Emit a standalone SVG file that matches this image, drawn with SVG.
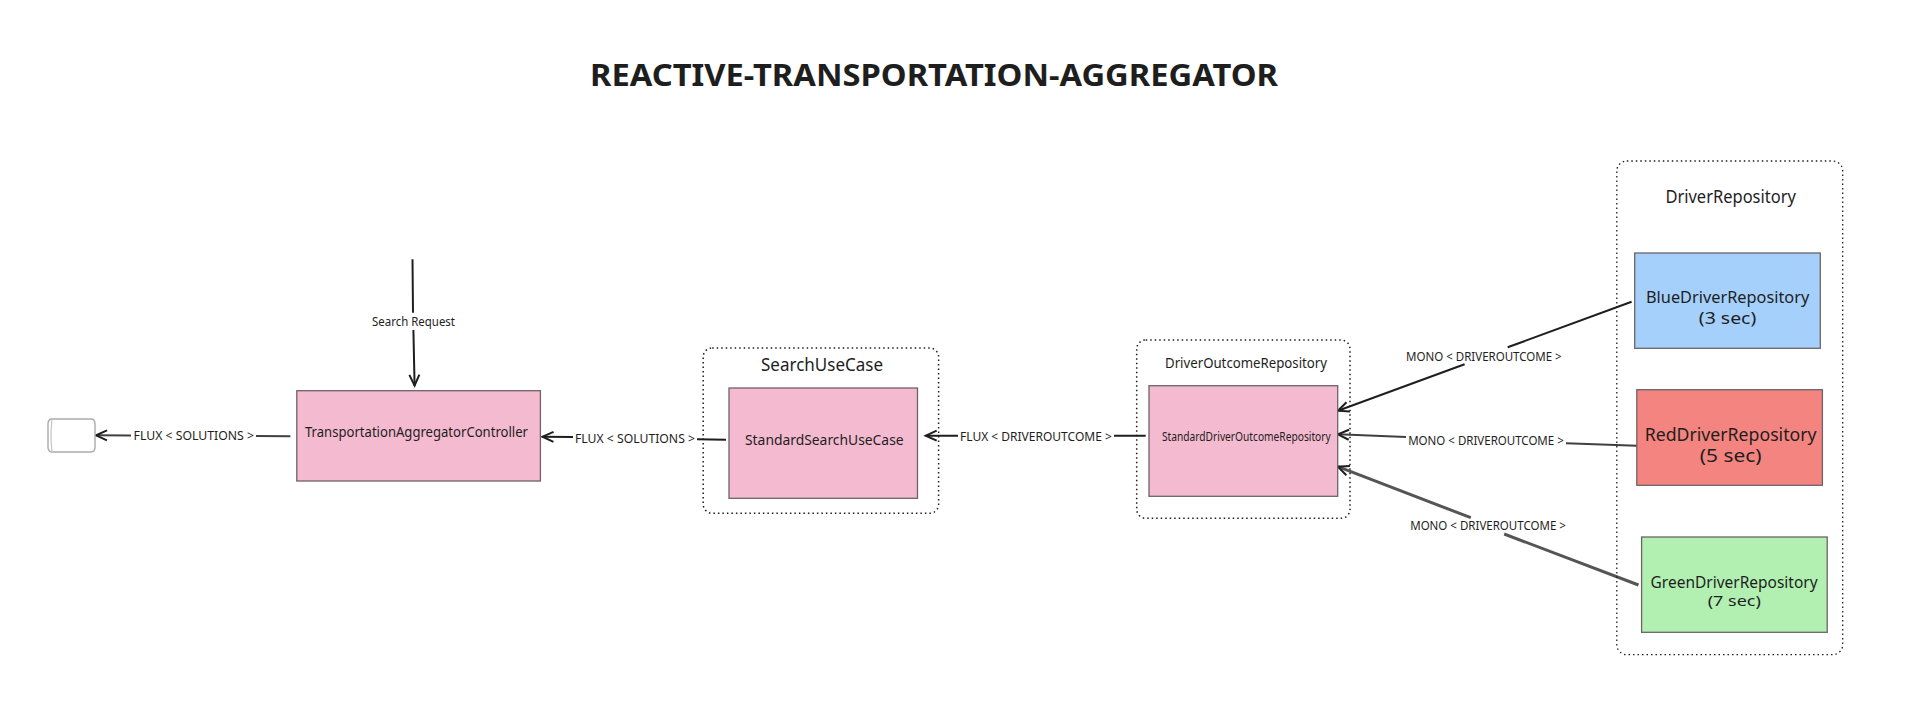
<svg xmlns="http://www.w3.org/2000/svg" width="1922" height="724" viewBox="0 0 1922 724">
<style>
text{font-family:"Noto Sans","DejaVu Sans",sans-serif;fill:#1e1e1e;text-anchor:start;dominant-baseline:central}
.box{stroke:#6e6268;stroke-width:1.3}
.group{fill:none;stroke:#1e1e1e;stroke-width:1.5;stroke-dasharray:1.5 3}
.conn{fill:none;stroke:#1e1e1e;stroke-width:2}
.lbl{font-size:12px}
.nd{font-size:15px}
.big{font-size:18px}
</style>
<defs>
<marker id="arrow" markerUnits="userSpaceOnUse" markerWidth="18" markerHeight="16" refX="14" refY="8" orient="auto" overflow="visible">
<path d="M3,3 L14,8 L3,13" fill="none" stroke="#1e1e1e" stroke-width="2"/>
</marker>
</defs>
<rect width="1922" height="724" fill="#fff"/>
<text id="title" x="590" y="74" font-size="31" font-weight="700" textLength="688" lengthAdjust="spacingAndGlyphs">REACTIVE-TRANSPORTATION-AGGREGATOR</text>

<g id="connectors">
<path class="conn" d="M412.5,259.3 L413,312.7 M413.4,330 L414.6,385.7" marker-end="url(#arrow)"/>
<path class="conn" stroke-opacity=".85" d="M290.4,436.3 L256,436 M131,435.6 L96,435.3" marker-end="url(#arrow)"/>
<path class="conn" d="M726,439.7 L697,439.3 M573,437 L542.5,436.7" marker-end="url(#arrow)"/>
<path class="conn" d="M1145.7,435.7 L1114,435.7 M958,435.7 L925.7,435.7" marker-end="url(#arrow)"/>
<path class="conn" d="M1631.6,301.7 L1507.7,347.3 M1464.6,364.3 L1337.9,410.7" marker-end="url(#arrow)"/>
<path class="conn" stroke-opacity=".85" d="M1636.8,445.7 L1566,443.3 M1406,437 L1337.9,434.3" marker-end="url(#arrow)"/>
<path class="conn" style="stroke:#555;stroke-width:3" d="M1638.5,585 L1504.2,534 M1470.8,517.7 L1337.9,466.7" marker-end="url(#arrow)"/>
</g>

<g id="output-cylinder">
<path d="M52,419 H91 Q95,419 95,424 V447 Q95,452 91,452 H52 Q48,452 48,447 V424 Q48,419 52,419 Z" fill="#fff" stroke="#aaa" stroke-width="1.4"/>
<path d="M52,419 Q50,435.500 52,452" fill="none" stroke="#c4c4c4" stroke-width="1.2"/>
</g>

<g id="transportation-controller">
<rect class="box" x="296.8" y="390.7" width="243.6" height="90.3" fill="#f4bad0"/>
<text class="nd" x="305" y="431" textLength="223" lengthAdjust="spacingAndGlyphs">TransportationAggregatorController</text>
</g>

<g id="search-use-case">
<rect class="group" x="703.2" y="348" width="235.4" height="165.3" rx="9"/>
<text class="big" x="761" y="364" textLength="122" lengthAdjust="spacingAndGlyphs">SearchUseCase</text>
<rect class="box" x="729" y="388" width="188.5" height="110.3" fill="#f4bad0"/>
<text class="nd" x="745" y="439" textLength="158.600" lengthAdjust="spacingAndGlyphs">StandardSearchUseCase</text>
</g>

<g id="driver-outcome-repository">
<rect class="group" x="1136.7" y="340" width="213.300" height="178.300" rx="9"/>
<text class="nd" x="1165" y="362" textLength="162" lengthAdjust="spacingAndGlyphs">DriverOutcomeRepository</text>
<rect class="box" x="1149" y="385.7" width="188.700" height="110.600" fill="#f4bad0"/>
<text class="lbl" x="1162" y="436" textLength="168.700" lengthAdjust="spacingAndGlyphs">StandardDriverOutcomeRepository</text>
</g>

<g id="driver-repository">
<rect class="group" style="stroke-width:1.3" x="1616.800" y="161" width="225.900" height="493.700" rx="10"/>
<text class="big" x="1665.400" y="196" textLength="130.500" lengthAdjust="spacingAndGlyphs">DriverRepository</text>
</g>

<g id="blue-driver-repository">
<rect class="box" x="1634.700" y="253" width="185.600" height="95.300" fill="#a5d0fb"/>
<text class="big" style="font-size:16px" x="1646" y="297" textLength="163.300" lengthAdjust="spacingAndGlyphs">BlueDriverRepository</text>
<text class="big" style="font-size:16px" x="1698.800" y="318" textLength="57.500" lengthAdjust="spacingAndGlyphs">(3 sec)</text>
</g>

<g id="red-driver-repository">
<rect class="box" x="1636.800" y="389.700" width="185.600" height="95.600" fill="#f38480"/>
<text class="big" x="1644.700" y="433.500" textLength="171.900" lengthAdjust="spacingAndGlyphs">RedDriverRepository</text>
<text class="big" x="1699.800" y="455" textLength="61.700" lengthAdjust="spacingAndGlyphs">(5 sec)</text>
</g>

<g id="green-driver-repository">
<rect class="box" x="1641.600" y="537" width="185.600" height="95.300" fill="#b2f0b2"/>
<text class="nd" style="font-size:16px" x="1650.600" y="582" textLength="167" lengthAdjust="spacingAndGlyphs">GreenDriverRepository</text>
<text class="nd" x="1707.700" y="600.300" textLength="53.100" lengthAdjust="spacingAndGlyphs">(7 sec)</text>
</g>

<g id="connector-labels">
<text class="lbl" x="372" y="321.500" textLength="83" lengthAdjust="spacingAndGlyphs">Search Request</text>
<text class="lbl" x="133.600" y="435.300" textLength="120.300" lengthAdjust="spacingAndGlyphs">FLUX &lt; SOLUTIONS &gt;</text>
<text class="lbl" x="575" y="438.700" textLength="120" lengthAdjust="spacingAndGlyphs">FLUX &lt; SOLUTIONS &gt;</text>
<text class="lbl" x="960" y="436" textLength="151.800" lengthAdjust="spacingAndGlyphs">FLUX &lt; DRIVEROUTCOME &gt;</text>
<text class="lbl" x="1406.100" y="356.300" textLength="155.600" lengthAdjust="spacingAndGlyphs">MONO &lt; DRIVEROUTCOME &gt;</text>
<text class="lbl" x="1408.200" y="440.300" textLength="155.600" lengthAdjust="spacingAndGlyphs">MONO &lt; DRIVEROUTCOME &gt;</text>
<text class="lbl" x="1410.200" y="525.700" textLength="155.700" lengthAdjust="spacingAndGlyphs">MONO &lt; DRIVEROUTCOME &gt;</text>
</g>
</svg>
